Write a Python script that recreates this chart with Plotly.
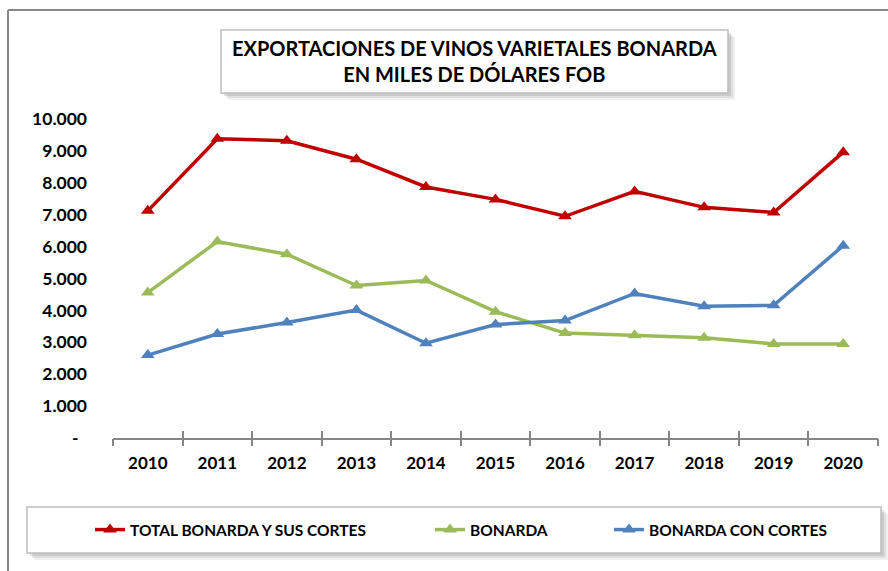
import plotly.graph_objects as go

years = [2010, 2011, 2012, 2013, 2014, 2015, 2016, 2017, 2018, 2019, 2020]
total = [7120, 9380, 9320, 8740, 7870, 7480, 6950, 7730, 7230, 7070, 8960]
bonarda = [4560, 6160, 5760, 4780, 4940, 3960, 3290, 3220, 3140, 2950, 2950]
con_cortes = [2600, 3260, 3620, 4010, 2970, 3560, 3680, 4530, 4130, 4160, 6030]
y_ticks = [0, 1000, 2000, 3000, 4000, 5000, 6000, 7000, 8000, 9000, 10000]
y_ticktext = ["-\u00a0\u00a0", "1.000", "2.000", "3.000", "4.000", "5.000",
              "6.000", "7.000", "8.000", "9.000", "10.000"]
names = ["TOTAL BONARDA Y SUS CORTES", "BONARDA", "BONARDA CON CORTES"]
colors = ["#C00000", "#9BBB59", "#4F81BD"]
title_text = "EXPORTACIONES DE VINOS VARIETALES BONARDA<br>EN MILES DE DÓLARES FOB"

W, H = 888, 571
L, R, T, B = 113, 10, 119, 133
PW, PH = W - L - R, H - T - B
FONT = "Lato"


def fx(px):
    return (px - L) / PW


def fy(py):
    return (H - B - py) / PH


fig = go.Figure()
series = [total, bonarda, con_cortes]
for i, (s, n, c) in enumerate(zip(series, names, colors)):
    fig.add_trace(go.Scatter(
        x=years, y=s, name=n, mode="lines+markers",
        line=dict(color=c, width=3.5),
        marker=dict(symbol="triangle-up", size=12, color=c),
        legend="legend" if i == 0 else f"legend{i+1}",
    ))

bounds = [y - 0.5 for y in years] + [years[-1] + 0.5]
xr = [years[0] - 0.5, years[-1] + 0.5]

# invisible helper traces so the tick-only overlay axes get drawn
for ax in ["x2", "x3"]:
    fig.add_trace(go.Scatter(x=[bounds[0]], y=[0], xaxis=ax, yaxis="y", mode="markers",
                             marker=dict(opacity=0), showlegend=False, hoverinfo="skip"))

shapes = []
# outer frame
shapes.append(dict(type="line", xref="paper", yref="paper", x0=fx(8), x1=fx(900), y0=fy(10), y1=fy(10),
                   line=dict(color="#888888", width=2)))
shapes.append(dict(type="line", xref="paper", yref="paper", x0=fx(8), x1=fx(8), y0=fy(10), y1=fy(580),
                   line=dict(color="#888888", width=2)))


def box(x0, y0, x1, y1):
    out = []
    for d, op in [(7, 0.15), (5, 0.2), (3, 0.3)]:
        out.append(dict(type="rect", xref="paper", yref="paper", x0=fx(x0 + d), x1=fx(x1 + d),
                        y0=fy(y0 + d), y1=fy(y1 + d), fillcolor="#9a9a9a", opacity=op, line=dict(width=0)))
    out.append(dict(type="rect", xref="paper", yref="paper", x0=fx(x0), x1=fx(x1), y0=fy(y0), y1=fy(y1),
                    fillcolor="white", line=dict(color="#bdbdbd", width=1.5)))
    return out


shapes += box(221, 30, 728, 93)
shapes += box(27, 507, 881, 553)

annotations = [
    dict(text=title_text, xref="paper", yref="paper",
         x=fx(474.5), y=fy(61), xanchor="center", yanchor="middle", showarrow=False,
         font=dict(family=FONT, size=20, color="black", weight="bold")),
]

leg_common = dict(orientation="h", bgcolor="rgba(0,0,0,0)", borderwidth=0, yanchor="middle",
                  y=fy(530), xanchor="left",
                  font=dict(family=FONT, size=15.5, color="black", weight="bold"))

tick_ax = dict(range=xr, overlaying="x", anchor="y", side="bottom", tickmode="array", tickvals=bounds,
               ticklen=7, tickcolor="#868686", tickwidth=1.5,
               showticklabels=False, showgrid=False, zeroline=False, showline=False)

fig.update_layout(
    width=W, height=H,
    margin=dict(l=L, r=R, t=T, b=B, pad=0),
    paper_bgcolor="white", plot_bgcolor="white",
    shapes=shapes, annotations=annotations,
    showlegend=True,
    legend=dict(x=fx(90), **leg_common),
    legend2=dict(x=fx(430), **leg_common),
    legend3=dict(x=fx(609), **leg_common),
    xaxis=dict(range=xr, tickmode="array", tickvals=years, ticktext=[str(y) for y in years],
               ticks="", showline=True, linecolor="#868686", linewidth=1.5, showgrid=False,
               zeroline=False, ticklabelstandoff=9,
               tickfont=dict(family=FONT, size=17, color="black", weight="bold")),
    xaxis2=dict(ticks="outside", **tick_ax),
    xaxis3=dict(ticks="inside", **tick_ax),
    yaxis=dict(range=[0, 10000], tickmode="array", tickvals=y_ticks, ticktext=y_ticktext,
               ticks="", showline=False, showgrid=False, zeroline=False, ticklabelstandoff=25,
               tickfont=dict(family=FONT, size=17.5, color="black", weight="bold")),
)

fig.write_html("out.html", config={"displayModeBar": False},
               post_script="document.body.style.margin='0';")
